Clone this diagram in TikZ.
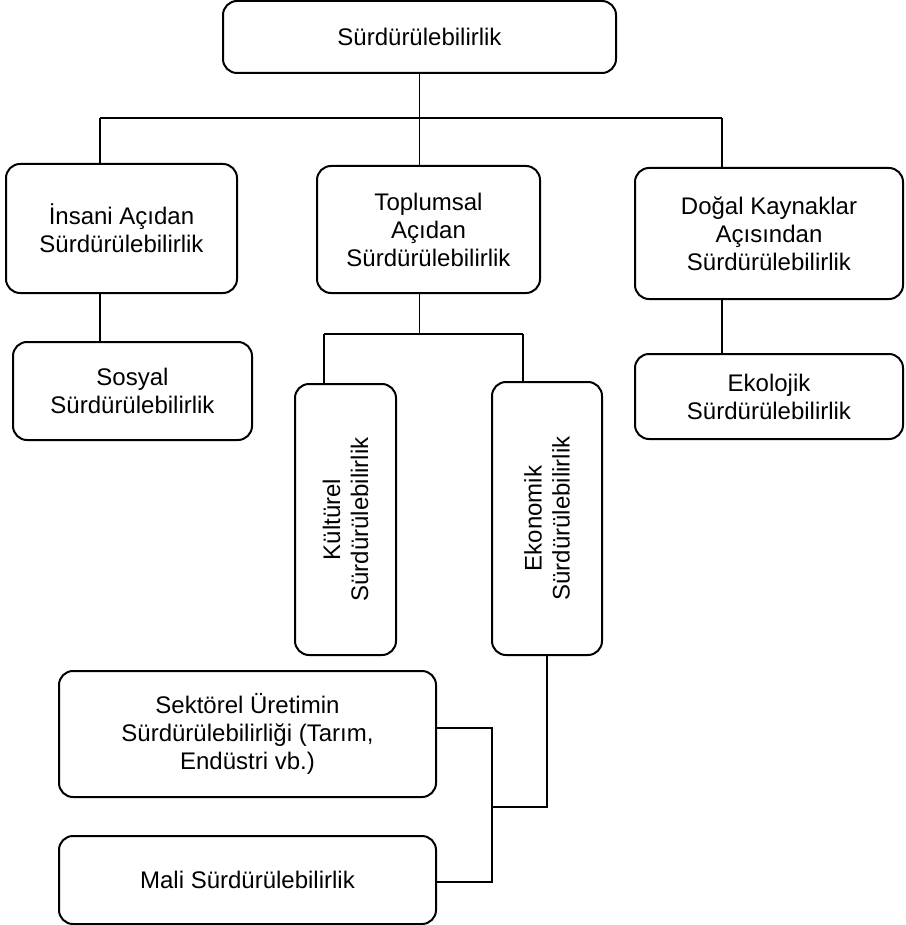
\documentclass[tikz,border=0pt]{standalone}
\usepackage{fontspec}
\setmainfont{Liberation Sans}
\usetikzlibrary{shapes.geometric, arrows.meta, positioning}

\begin{document}
\begin{tikzpicture}[x=0.5pt, y=-0.5pt, font=\fontsize{12}{14}\selectfont]
		\tikzstyle{block} = [rectangle, rounded corners=7pt, draw=black, line width=1pt, align=center, inner sep=2pt]
		\tikzstyle{line} = [draw, line width=0.8pt]
		\useasboundingbox (0,0) rectangle (905,925);
		\node (root) [block, minimum width=196.5pt, minimum height=36pt] at (419.5,37) {Sürdürülebilirlik};
		\node (insani) [block, minimum width=115.5pt, minimum height=64.5pt] at (121.5,228.5) {İnsani Açıdan\\Sürdürülebilirlik};
		\node (toplum) [block, minimum width=111.5pt, minimum height=63.5pt] at (428.5,229.5) {Toplumsal\\Açıdan\\Sürdürülebilirlik};
		\node (dogal) [block, minimum width=134pt, minimum height=65.5pt] at (769,233.5) {Doğal Kaynaklar\\Açısından\\Sürdürülebilirlik};
		\node (sosyal) [block, minimum width=119.5pt, minimum height=49pt] at (132.5,391) {Sosyal\\Sürdürülebilirlik};
		\node (kultur) [block, rotate=90, minimum width=135.5pt, minimum height=50.5pt] at (345.5,519.5) {Kültürel\\Sürdürülebilirlik};
		\node (ekonomi) [block, rotate=90, minimum width=136.5pt, minimum height=55pt] at (547,518.5) {Ekonomik\\Sürdürülebilirlik};
		\node (ekoloji) [block, minimum width=134pt, minimum height=42.5pt] at (769,396.5) {Ekolojik\\Sürdürülebilirlik};
		\node (sektor) [block, minimum width=188.5pt, minimum height=63pt] at (247.5,734) {Sektörel Üretimin\\Sürdürülebilirliği (Tarım,\\Endüstri vb.)};
		\node (mali) [block, minimum width=188.5pt, minimum height=44pt] at (247.5,880) {Mali Sürdürülebilirlik};

		\coordinate (busL) at (100,118);
		\coordinate (busR) at (722,118);
		\coordinate (midL) at (324,334);
		\coordinate (midR) at (523,334);
		\coordinate (ecoJ) at (492,807);

		\path [line] (root.south) -- (root.south |- busL);
		\path [line] (busL) -- (busR);
		\path [line] (busL) -- (busL |- insani.north);
		\path [line] (root.south |- busL) -- (root.south |- toplum.north);
		\path [line] (busR) -- (busR |- dogal.north);
		\path [line] (busL |- insani.south) -- (busL |- sosyal.north);
		\path [line] (root.south |- toplum.south) -- (root.south |- midL);
		\path [line] (midL) -- (midR);
		\path [line] (midL) -- (midL |- kultur.east);
		\path [line] (midR) -- (midR |- ekonomi.east);
		\path [line] (busR |- dogal.south) -- (busR |- ekoloji.north);
		\path [line] (ekonomi.west) |- (ecoJ);
		\path [line] ([yshift=3pt]sektor.east) -| (ecoJ);
		\path [line] ([yshift=-1pt]mali.east) -| (ecoJ);
	\end{tikzpicture}
\end{document}
